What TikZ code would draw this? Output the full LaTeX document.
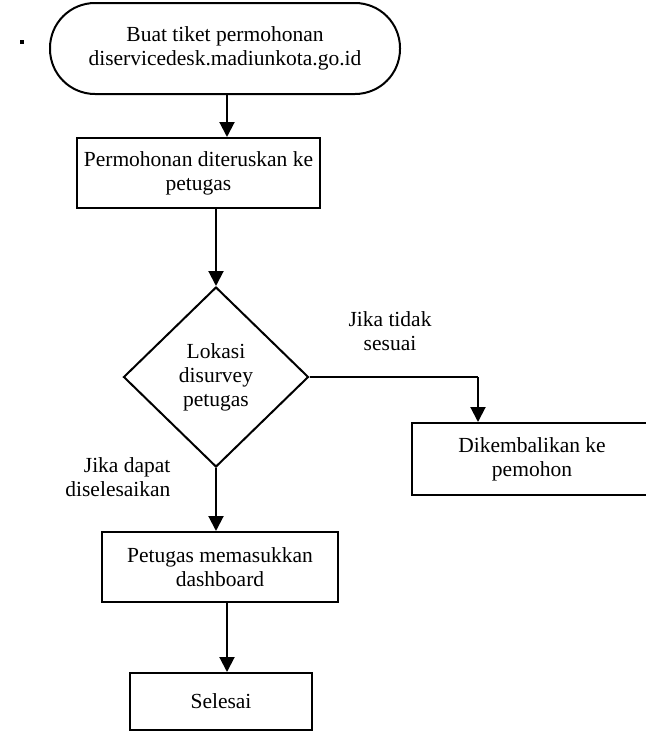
\documentclass[tikz,border=0pt]{standalone}
\usepackage{fontspec}
\setmainfont{Liberation Serif}
\usepackage{tikz}
\usepackage{xcolor}
\usetikzlibrary{arrows.meta, positioning, shapes.geometric, calc}
\definecolor{edge}{gray}{0.0}
\tikzset{
  flowbox/.style={
    draw=edge, line width=2pt, fill=white,
    font=\fontsize{21.5}{24}\selectfont, align=center,
    inner sep=2pt
  },
  startbox/.style={
    flowbox, rounded corners=45pt,
    minimum width=350pt, minimum height=91pt
  },
  decision/.style={
    flowbox, diamond, aspect=1, inner sep=0pt,
    minimum width=185pt, minimum height=180pt
  },
  darrow/.style={-{Triangle[length=15pt, width=15pt]}, line width=2pt, color=edge},
  dline/.style={line width=2pt, color=edge},
  branch/.style={font=\fontsize{21.5}{24}\selectfont}
}
\begin{document}
\begin{tikzpicture}[x=1pt, y=-1pt]
    \useasboundingbox (0,0) rectangle (646,732);

    \node[fill=edge, minimum size=4pt, inner sep=0pt] (dot) at (22,42) {};
    \node[startbox] (start) at (225,48.5) {Buat tiket permohonan\\diservicedesk.madiunkota.go.id};
    \node[flowbox, minimum width=243pt, minimum height=70pt] (req) at (198.5,173) {Permohonan diteruskan ke\\petugas};
    \node[decision] (survey) at (216,377) {Lokasi\\disurvey\\petugas};
    \node[flowbox, minimum width=240pt, minimum height=72pt] (back) at (532,459) {Dikembalikan ke\\pemohon};
    \node[flowbox, minimum width=236pt, minimum height=70pt] (input) at (220,567) {Petugas memasukkan\\dashboard};
    \node[flowbox, minimum width=182pt, minimum height=57pt] (finish) at (221,701.5) {Selesai};

    \node[branch, align=center] (nofit) at (390,331) {Jika tidak\\sesuai};
    \node[branch, align=right, anchor=east] (solved) at (174,477) {Jika dapat\\diselesaikan};

    \coordinate (turn) at (478,377);

    \draw[darrow] ([xshift=2pt]start.south) -- ([xshift=2pt]start.south |- req.north);
    \draw[darrow] (survey.north |- req.south) -- (survey.north);
    \draw[dline] (survey.east) -- (turn);
    \draw[darrow] (turn) -- (turn |- back.north);
    \draw[darrow] (survey.south) -- (survey.south |- input.north);
    \draw[darrow] ([xshift=7pt]input.south) -- ([xshift=7pt]input.south |- finish.north);
  \end{tikzpicture}
\end{document}
